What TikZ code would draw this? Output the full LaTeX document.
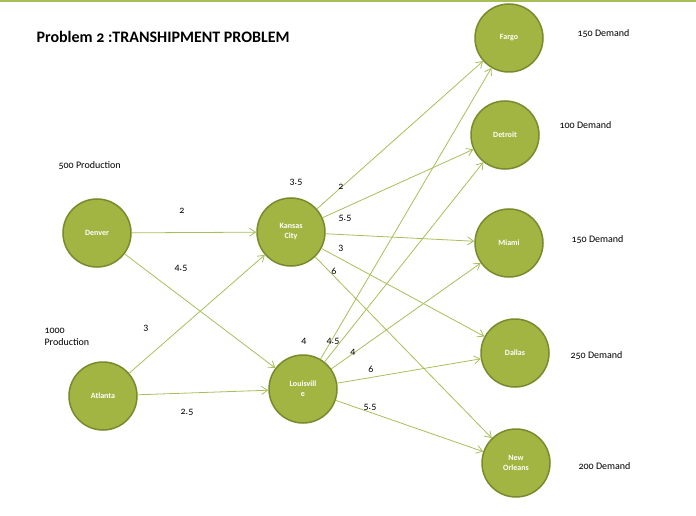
\documentclass[tikz,border=0pt]{standalone}
\usepackage{fontspec}
\setmainfont{Carlito}[Numbers=OldStyle]
\usetikzlibrary{arrows.meta}
\definecolor{nfill}{HTML}{A2B543}
\definecolor{nline}{HTML}{788A2C}
\definecolor{eline}{HTML}{A8BE5A}
\begin{document}
\begin{tikzpicture}[x=1pt,y=-1pt,
  city/.style={circle,fill=nfill,draw=nline,line width=1.5pt,minimum size=68pt,inner sep=0pt,text=white,font=\fontsize{8}{10}\selectfont\bfseries,align=center},
  edge/.style={draw=eline,line width=0.8pt,-{Straight Barb[length=6pt,width=8pt]}},
  lab/.style={font=\fontsize{10}{12}\selectfont},
  dem/.style={font=\fontsize{10}{12}\selectfont,anchor=west}]
\useasboundingbox (0,0) rectangle (696,516);
\draw[eline,line width=1.2pt] (0,1) -- (696,1);
\node[anchor=west,font=\fontsize{16}{19}\selectfont\bfseries] (title) at (33,37) {Problem 2 :TRANSHIPMENT PROBLEM};
\node[city] (den) at (97,233) {Denver};
\node[city] (atl) at (103,396) {Atlanta};
\node[city] (kc) at (291,232) {Kansas\\City};
\node[city] (lou) at (303,389) {Louisvill\\e};
\node[city] (far) at (509,38) {Fargo};
\node[city] (det) at (505,135) {Detroit};
\node[city] (mia) at (509,243) {Miami};
\node[city] (dal) at (515,353) {Dallas};
\node[city] (no) at (516,463) {New\\Orleans};
\foreach \a/\b in {den/kc,den/lou,atl/kc,atl/lou,kc/far,kc/det,kc/mia,kc/dal,kc/no,lou/far,lou/det,lou/mia,lou/dal,lou/no}
  \draw[edge] (\a) -- (\b);
\node[lab] (l1) at (182,211) {2};
\node[lab] (l2) at (181,268) {4.5};
\node[lab] (l3) at (146,328) {3};
\node[lab] (l4) at (187,412) {2.5};
\node[lab] (l5) at (296,182) {3.5};
\node[lab] (l6) at (341,187) {2};
\node[lab] (l7) at (345,218) {5.5};
\node[lab] (l8) at (341,248) {3};
\node[lab] (l9) at (334,271) {6};
\node[lab] (l10) at (304,341) {4};
\node[lab] (l11) at (333,341) {4.5};
\node[lab] (l12) at (353,352) {4};
\node[lab] (l13) at (371,369) {6};
\node[lab] (l14) at (370,407) {5.5};
\node[dem] (d1) at (574,34) {150 Demand};
\node[dem] (d2) at (556,125) {100 Demand};
\node[dem] (d3) at (568,240) {150 Demand};
\node[dem] (d4) at (567,356) {250 Demand};
\node[dem] (d5) at (575,466) {200 Demand};
\node[dem] (p1) at (55,166) {500 Production};
\node[dem,align=left] (p2) at (41,337) {1000\\Production};
\end{tikzpicture}
\end{document}
